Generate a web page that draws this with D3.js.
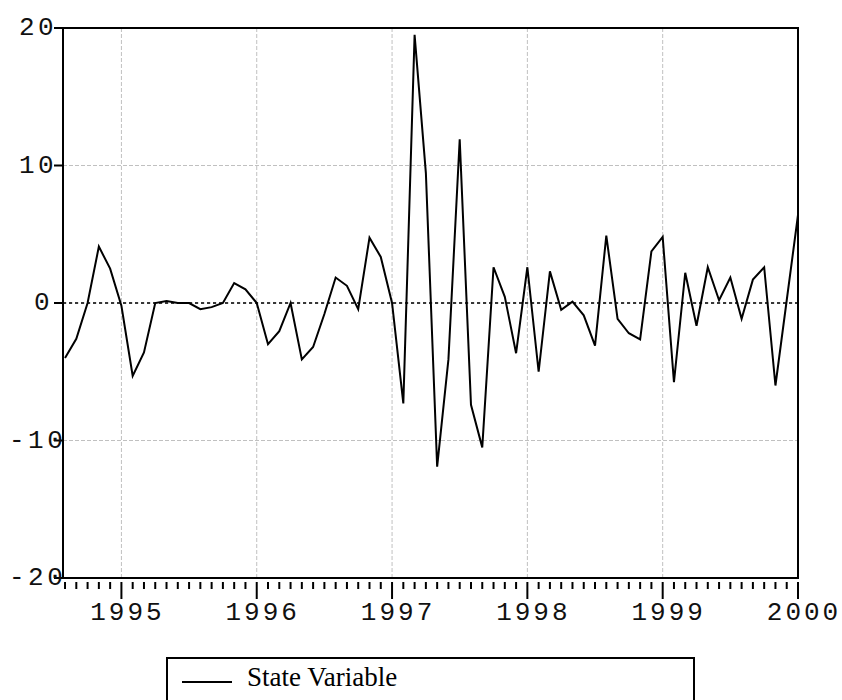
<!DOCTYPE html>
<html>
<head>
<meta charset="utf-8">
<script src="https://cdn.jsdelivr.net/npm/d3@7"></script>
<style>
  body { margin: 0; background: #fff; }
  svg { display: block; }
</style>
</head>
<body>
<div id="chart"></div>
<script>
// Monthly series, Aug 1994 .. Jan 2000
const startYear = 1994;
const startMonth = 7; // 0-based, August
const stateValues = [
  -4.0, -2.6, 0.0, 4.1, 2.5,
  -0.2, -5.3, -3.6, 0.0, 0.15, 0.0, 0.0, -0.45, -0.3, 0.0, 1.45, 1.0,
  0.0, -3.0, -2.05, 0.0, -4.1, -3.2, -0.8, 1.85, 1.25, -0.45, 4.75, 3.35,
  0.0, -7.3, 19.5, 9.45, -11.9, -4.1, 11.9, -7.4, -10.5, 2.6, 0.45, -3.65,
  2.6, -5.0, 2.3, -0.5, 0.1, -0.9, -3.1, 4.9, -1.15, -2.2, -2.65, 3.75,
  4.8, -5.75, 2.2, -1.65, 2.6, 0.2, 1.85, -1.15, 1.7, 2.6, -6.0, 0.2,
  6.4
];
const yearTicks = [1995, 1996, 1997, 1998, 1999, 2000];
const yTicks = [20, 10, 0, -10, -20];
const gridY = [10, -10];
const legendLabel = "State Variable";

const data = stateValues.map((v, i) => ({ t: startYear + (startMonth + i) / 12, v: v }));

const width = 842, height = 700;
const svg = d3.select("#chart").append("svg")
  .attr("width", width).attr("height", height);

const plot = { left: 63, right: 798, top: 28, bottom: 578 };

const x = d3.scaleLinear()
  .domain([data[0].t - 0.015, 2000])
  .range([plot.left, plot.right]);
const y = d3.scaleLinear()
  .domain([-20, 20])
  .range([plot.bottom, plot.top]);

// grid
const grid = svg.append("g")
  .attr("stroke", "#c0c0c0")
  .attr("stroke-width", 1)
  .attr("stroke-dasharray", "4,2");
grid.selectAll("line.v")
  .data(yearTicks.filter(d => d < 2000))
  .join("line")
  .attr("x1", d => x(d)).attr("x2", d => x(d))
  .attr("y1", plot.top).attr("y2", plot.bottom);
grid.selectAll("line.h")
  .data(gridY.concat([0]))
  .join("line")
  .attr("x1", plot.left).attr("x2", plot.right)
  .attr("y1", d => y(d)).attr("y2", d => y(d));

// zero line
svg.append("line")
  .attr("x1", plot.left).attr("x2", plot.right)
  .attr("y1", y(0)).attr("y2", y(0))
  .attr("stroke", "#000")
  .attr("stroke-width", 1.5)
  .attr("stroke-dasharray", "3,3");

// series
const line = d3.line().x(d => x(d.t)).y(d => y(d.v));
svg.append("path")
  .datum(data)
  .attr("fill", "none")
  .attr("stroke", "#000")
  .attr("stroke-width", 2)
  .attr("stroke-linejoin", "miter")
  .attr("d", line);

// frame
svg.append("rect")
  .attr("x", plot.left).attr("y", plot.top)
  .attr("width", plot.right - plot.left)
  .attr("height", plot.bottom - plot.top)
  .attr("fill", "none")
  .attr("stroke", "#000")
  .attr("stroke-width", 2);

const monoFont = "'Liberation Mono', monospace";

// y axis ticks + labels
svg.append("g").selectAll("line")
  .data(yTicks)
  .join("line")
  .attr("x1", plot.left - 9).attr("x2", plot.left)
  .attr("y1", d => y(d)).attr("y2", d => y(d))
  .attr("stroke", "#000").attr("stroke-width", 2);

// labels are laid out from a fixed right anchor using narrow widths
function labelWidth(s) {
  let w = 0;
  for (const c of s) w += (c === "-" ? 10 : 15);
  return w;
}
svg.append("g").selectAll("text")
  .data(yTicks)
  .join("text")
  .attr("x", d => 49 - labelWidth(String(d)))
  .attr("y", d => y(d) - 2)
  .attr("dy", "0.36em")
  .attr("font-family", monoFont)
  .attr("font-size", 26)
  .attr("letter-spacing", 3.5)
  .attr("fill", "#111")
  .text(d => String(d));

// x axis: monthly minor ticks, yearly major ticks
const monthTicks = data.map(d => d.t);
svg.append("g").selectAll("line")
  .data(monthTicks)
  .join("line")
  .attr("x1", d => x(d)).attr("x2", d => x(d))
  .attr("y1", plot.bottom + 4)
  .attr("y2", d => yearTicks.some(yr => Math.abs(yr - d) < 1e-6) ? plot.bottom + 21 : plot.bottom + 11)
  .attr("stroke", "#000").attr("stroke-width", 2);

svg.append("g").selectAll("text")
  .data(yearTicks)
  .join("text")
  .attr("x", d => x(d) + 6)
  .attr("y", 620)
  .attr("text-anchor", "middle")
  .attr("font-family", monoFont)
  .attr("font-size", 26)
  .attr("letter-spacing", 3)
  .attr("fill", "#111")
  .text(d => d);

// legend
const legend = svg.append("g");
legend.append("rect")
  .attr("x", 167).attr("y", 658)
  .attr("width", 527).attr("height", 60)
  .attr("fill", "none")
  .attr("stroke", "#000")
  .attr("stroke-width", 2);
legend.append("line")
  .attr("x1", 182).attr("x2", 232)
  .attr("y1", 682).attr("y2", 682)
  .attr("stroke", "#000").attr("stroke-width", 2);
legend.append("text")
  .attr("x", 247).attr("y", 686)
  .attr("font-family", "'Liberation Serif', 'Times New Roman', serif")
  .attr("font-size", 27)
  .attr("fill", "#000")
  .text(legendLabel);
</script>
</body>
</html>
